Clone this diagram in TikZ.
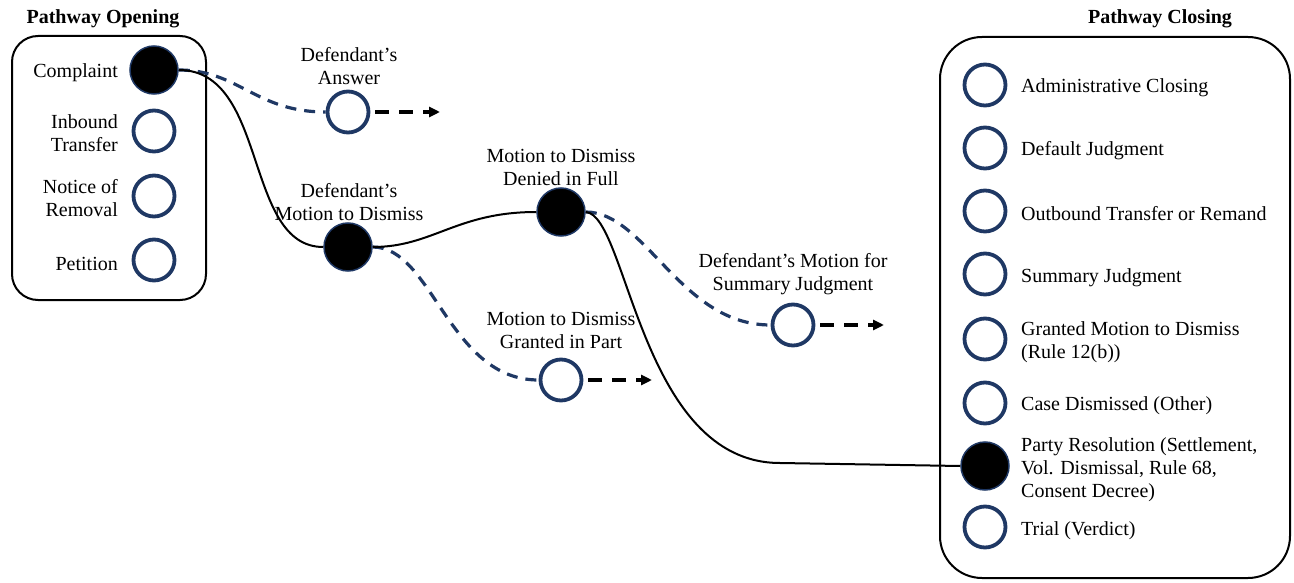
\documentclass[tikz,border=0pt]{standalone}
\usepackage{fontspec}
\setmainfont{Liberation Serif}
\usepackage{xcolor}
\usetikzlibrary{arrows.meta}
\definecolor{navy}{RGB}{31,56,100}

\begin{document}
\begin{tikzpicture}[x=1pt, y=-1pt, >={Triangle[length=11pt, width=10pt]},
  every node/.style={font=\fontsize{20}{23}\selectfont, inner sep=0pt},
  openstep/.style={circle, draw=navy, line width=3.8pt, minimum size=41pt, fill=white},
  donestep/.style={circle, draw=navy, line width=1.5pt, minimum size=48pt, fill=black},
  trail/.style={line width=2pt},
  sidetrail/.style={navy, line width=3.2pt, dash pattern=on 11pt off 8pt},
  onward/.style={->, line width=3.3pt, dash pattern=on 14pt off 10pt, shorten <=5pt},
  frame/.style={line width=2pt, rounded corners=#1}]
  \useasboundingbox (0,0) rectangle (1294,583);

  % pathway opening
  \node[font=\fontsize{20}{23}\selectfont\bfseries] (opentitle) at (103,19) {Pathway Opening};
  \draw[frame=26pt] (12,36) rectangle (206,300);
  \node[donestep] (complaint) at (154,70) {};
  \node[openstep] (inbound) at (154,131) {};
  \node[openstep] (removal) at (154,196) {};
  \node[openstep] (petition) at (154,260) {};
  \node[anchor=east] (complaintlbl) at (118,73) {Complaint};
  \node[anchor=east, align=right] (inboundlbl) at (118,133) {Inbound\\Transfer};
  \node[anchor=east, align=right] (removallbl) at (118,198) {Notice of\\Removal};
  \node[anchor=east] (petitionlbl) at (118,264) {Petition};

  % middle steps
  \node[openstep] (answer) at (348,112) {};
  \node[align=center] (answerlbl) at (349,66) {Defendant’s\\Answer};
  \node[donestep] (mtd) at (348,247) {};
  \node[align=center] (mtdlbl) at (349,202) {Defendant’s\\Motion to Dismiss};
  \node[donestep] (denied) at (561,212) {};
  \node[align=center] (deniedlbl) at (561,167) {Motion to Dismiss\\Denied in Full};
  \node[openstep] (partial) at (561,380) {};
  \node[align=center] (partiallbl) at (561,330) {Motion to Dismiss\\Granted in Part};
  \node[openstep] (msj) at (793,325) {};
  \node[align=center] (msjlbl) at (793,274) {Defendant’s Motion for\\Summary Judgment};

  \coordinate (answerend) at (440,112);
  \coordinate (partialend) at (652,380);
  \coordinate (msjend) at (884,325);
  \draw[onward] (answer.east) -- (answerend);
  \draw[onward] (partial.east) -- (partialend);
  \draw[onward] (msj.east) -- (msjend);

  % pathway closing
  \node[font=\fontsize{20}{23}\selectfont\bfseries] (closetitle) at (1160,19) {Pathway Closing};
  \draw[frame=42pt] (940,37) rectangle (1290,578);
  \node[openstep] (admin) at (985,85) {};
  \node[openstep] (default) at (985,148) {};
  \node[openstep] (outbound) at (985,211) {};
  \node[openstep] (summary) at (985,274) {};
  \node[openstep] (granted) at (985,339) {};
  \node[openstep] (other) at (985,403) {};
  \node[donestep] (party) at (985,466) {};
  \node[openstep] (trial) at (985,527) {};
  \node[anchor=west] (adminlbl) at (1021,88) {Administrative Closing};
  \node[anchor=west] (defaultlbl) at (1021,151) {Default Judgment};
  \node[anchor=west] (outboundlbl) at (1021,214) {Outbound Transfer or Remand};
  \node[anchor=west] (summarylbl) at (1021,278) {Summary Judgment};
  \node[anchor=west, align=left] (grantedlbl) at (1021,342) {Granted Motion to Dismiss\\(Rule 12(b))};
  \node[anchor=west] (otherlbl) at (1021,406) {Case Dismissed (Other)};
  \node[anchor=west, align=left] (partylbl) at (1021,470) {Party Resolution (Settlement,\\Vol. Dismissal, Rule 68,\\Consent Decree)};
  \node[anchor=west] (triallbl) at (1021,531) {Trial (Verdict)};

  % the case's path
  \draw[sidetrail] (complaint.east) .. controls +(60,0) and +(-70,0) .. (answer.west);
  \draw[sidetrail] (mtd.east) .. controls +(60,0) and +(-90,0) .. (partial.west);
  \draw[sidetrail] (denied.east) .. controls +(60,0) and +(-90,0) .. (msj.west);
  \draw[trail] (complaint.east) .. controls +(90,0) and +(-80,0) .. (mtd.west);
  \draw[trail] (mtd.east) .. controls +(60,0) and +(-80,0) .. (denied.west);
  \coordinate (bend) at (780,463);
  \draw[trail] (denied.east) .. controls +(42,3) and +(-140,0) .. (bend) -- (party.west);
\end{tikzpicture}
\end{document}
